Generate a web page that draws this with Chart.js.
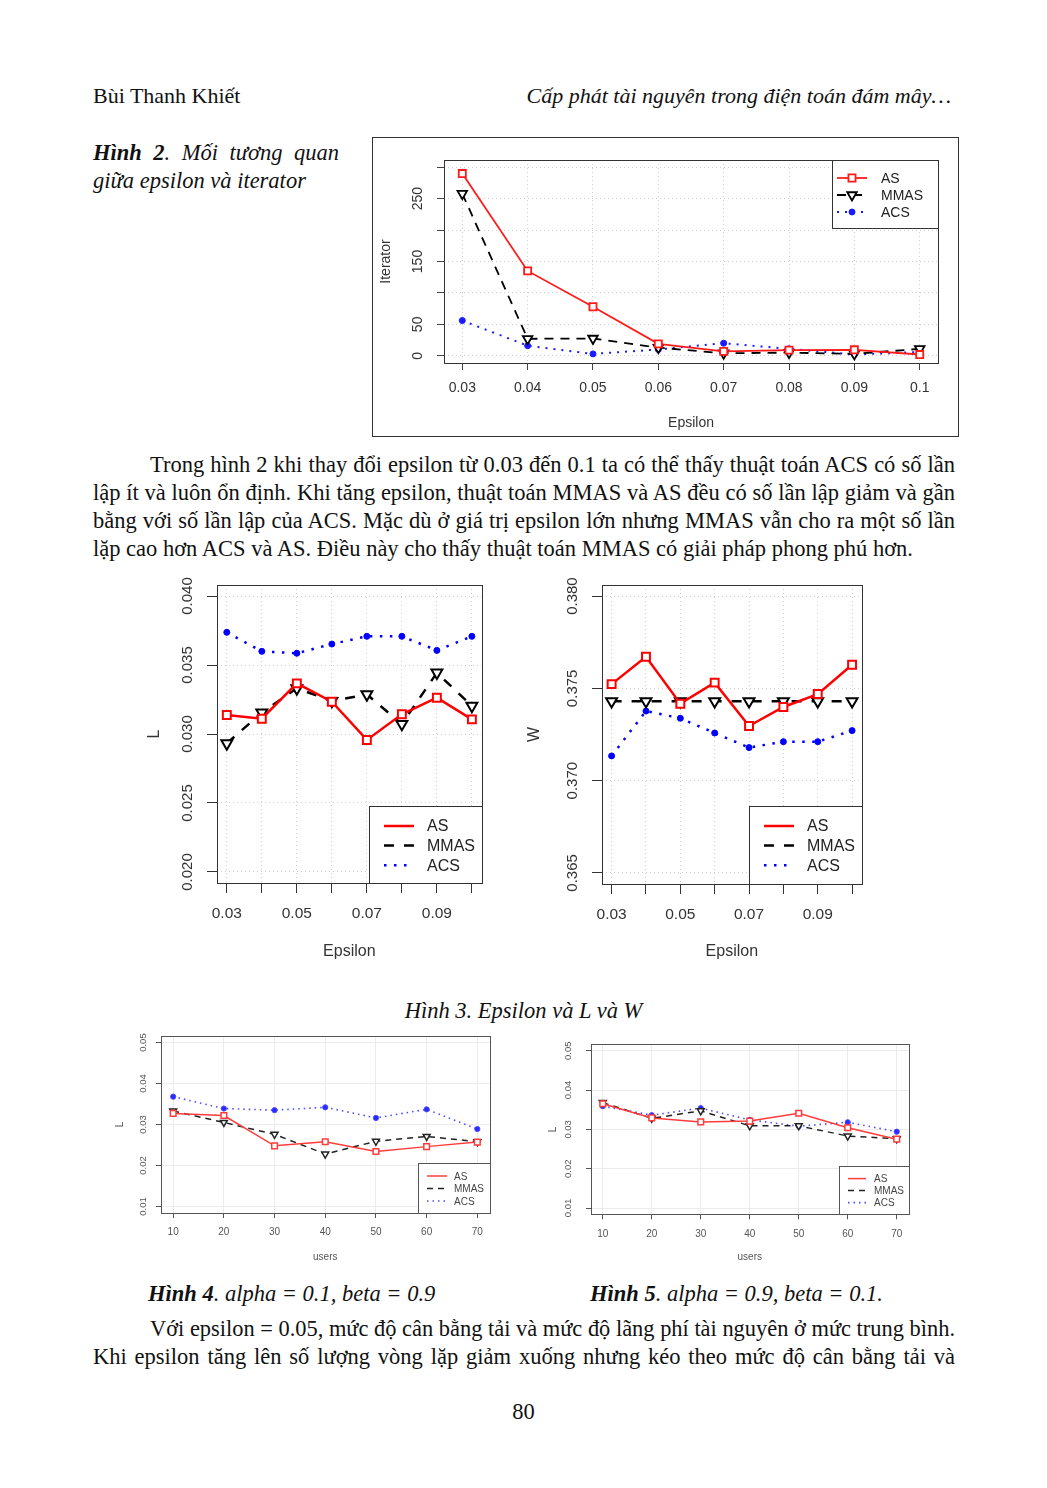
<!DOCTYPE html>
<html>
<head>
<meta charset="utf-8">
<script src="https://cdn.jsdelivr.net/npm/chart.js"></script>
<style>
body { margin: 0; background: #fff; width: 1047px; height: 1488px; position: relative; overflow: hidden; font-family: "Liberation Serif", serif; color: #111; }
.t { position: absolute; white-space: nowrap; font-size: 22.5px; line-height: 28px; }
.h { font-size: 22px; }
.j { text-align: justify; text-align-last: justify; white-space: normal; }
.i { font-style: italic; }
.fit { transform-origin: 0 50%; }
canvas { position: absolute; }
#box1 { position: absolute; left: 372px; top: 137px; width: 585px; height: 298px; border: 1px solid #333; }
</style>
</head>
<body>

<div class="t h" style="left:93px; top:82px;">Bùi Thanh Khiết</div>
<div class="t h i" style="right:96px; top:82px;">Cấp phát tài nguyên trong điện toán đám mây…</div>

<div class="t i j" style="left:93px; top:139px; width:246px;"><b>Hình 2</b>. Mối tương quan</div>
<div class="t i" style="left:93px; top:167px;">giữa epsilon và iterator</div>

<div id="box1"><canvas id="c1" width="585" height="298" style="left:0;top:0"></canvas></div>

<div class="t j" style="left:150px; top:451px; width:805px;">Trong hình 2 khi thay đổi epsilon từ 0.03 đến 0.1 ta có thể thấy thuật toán ACS có số lần</div>
<div class="t j" style="left:93px; top:479px; width:862px;">lập ít và luôn ổn định. Khi tăng epsilon, thuật toán MMAS và AS đều có số lần lập giảm và gần</div>
<div class="t j" style="left:93px; top:507px; width:862px;">bằng với số lần lập của ACS. Mặc dù ở giá trị epsilon lớn nhưng MMAS vẫn cho ra một số lần</div>
<div class="t" style="left:93px; top:535px;">lặp cao hơn ACS và AS. Điều này cho thấy thuật toán MMAS có giải pháp phong phú hơn.</div>

<canvas id="cL" width="350" height="390" style="left:140px; top:575px;"></canvas>
<canvas id="cW" width="350" height="390" style="left:520px; top:575px;"></canvas>

<div class="t i" style="left:0; width:1047px; text-align:center; top:997px;">Hình 3. Epsilon và L và W</div>

<canvas id="c4" width="390" height="240" style="left:105px; top:1030px;"></canvas>
<canvas id="c5" width="390" height="235" style="left:530px; top:1035px;"></canvas>

<div class="t i" style="left:148px; top:1280px;"><b>Hình 4</b>. alpha = 0.1, beta = 0.9</div>
<div class="t i" style="left:590px; top:1280px;"><b>Hình 5</b>. alpha = 0.9, beta = 0.1.</div>

<div class="t fit" data-w="805" style="left:150px; top:1315px;">Với epsilon = 0.05, mức độ cân bằng tải và mức độ lãng phí tài nguyên ở mức trung bình.</div>
<div class="t j" style="left:93px; top:1343px; width:862px;">Khi epsilon tăng lên số lượng vòng lặp giảm xuống nhưng kéo theo mức độ cân bằng tải và</div>

<div class="t" style="left:0; width:1047px; text-align:center; top:1398px;">80</div>

<script>
// Dữ liệu Hình 2 (epsilon - iterator)
const epsilon = [0.03, 0.04, 0.05, 0.06, 0.07, 0.08, 0.09, 0.10];
const epsLabels = ['0.03', '0.04', '0.05', '0.06', '0.07', '0.08', '0.09', '0.1'];
const epsLabelsSparse = ['0.03', '', '0.05', '', '0.07', '', '0.09', ''];
const iterAS = [290, 135, 78, 19, 7, 9, 9.5, 2];
const iterMMAS = [258, 27, 27.5, 13, 4, 5, 3, 11];
const iterACS = [56, 16, 3, 10, 20, 11, 2, 6];
const iterTicks = [0, 50, 100, 150, 200, 250, 300];
const iterTickLabels = ['0', '50', '', '150', '', '250', ''];

// Hình 3 (L và W)
const lAS = [0.03138, 0.03111, 0.03367, 0.03234, 0.02957, 0.03143, 0.03263, 0.03106];
const lMMAS = [0.02932, 0.03155, 0.03331, 0.03239, 0.03287, 0.03072, 0.03444, 0.03203];
const lACS = [0.03737, 0.03599, 0.03585, 0.03652, 0.03708, 0.03708, 0.03606, 0.03708];
const lTicks = [0.020, 0.025, 0.030, 0.035, 0.040];
const lTickLabels = ['0.020', '0.025', '0.030', '0.035', '0.040'];

const wAS = [0.37523, 0.37671, 0.37417, 0.37531, 0.37296, 0.37399, 0.37469, 0.37628];
const wMMAS = [0.3743, 0.3743, 0.3743, 0.3743, 0.3743, 0.3743, 0.3743, 0.3743];
const wACS = [0.37134, 0.37377, 0.37338, 0.37258, 0.37179, 0.37211, 0.37211, 0.37271];
const wTicks = [0.365, 0.370, 0.375, 0.380];
const wTickLabels = ['0.365', '0.370', '0.375', '0.380'];

// Hình 4 và 5 (users - L)
const users = [10, 20, 30, 40, 50, 60, 70];
const userLabels = ['10', '20', '30', '40', '50', '60', '70'];
const h4AS = [0.0327, 0.0322, 0.0248, 0.0258, 0.0234, 0.0246, 0.0257];
const h4MMAS = [0.0333, 0.0305, 0.0276, 0.0228, 0.0259, 0.0271, 0.0258];
const h4ACS = [0.0368, 0.0339, 0.0335, 0.0342, 0.0316, 0.0337, 0.0289];
const h5AS = [0.0365, 0.0329, 0.0319, 0.0321, 0.0341, 0.0304, 0.0275];
const h5MMAS = [0.0368, 0.0328, 0.0347, 0.0309, 0.0309, 0.0283, 0.0276];
const h5ACS = [0.0359, 0.0336, 0.0354, 0.0324, 0.0308, 0.0318, 0.0294];
const smallTicks = [0.01, 0.02, 0.03, 0.04, 0.05];
const smallTickLabels = ['0.01', '0.02', '0.03', '0.04', '0.05'];

const SANS = '"Liberation Sans", Arial, sans-serif';

// co dòng chữ quá dài cho vừa bề rộng
document.querySelectorAll('.fit').forEach(el => {
    const w = +el.dataset.w;
    const nat = el.getBoundingClientRect().width;
    if (nat > w) el.style.transform = 'scaleX(' + (w / nat) + ')';
});

function drawMarker(ctx, ds, x, y) {
    const r = ds.pointRadius;
    ctx.save();
    ctx.setLineDash([]);
    ctx.lineWidth = ds.pointBorderWidth;
    ctx.strokeStyle = ds.pointBorderColor;
    ctx.fillStyle = ds.pointBackgroundColor;
    ctx.beginPath();
    if (ds.pointStyle === 'rect') {
        const s = r * Math.SQRT1_2;
        ctx.rect(x - s, y - s, 2 * s, 2 * s);
    } else if (ds.pointStyle === 'triangle') {
        ctx.moveTo(x, y + r);
        ctx.lineTo(x - r * Math.sin(Math.PI / 3), y - r / 2);
        ctx.lineTo(x + r * Math.sin(Math.PI / 3), y - r / 2);
        ctx.closePath();
    } else {
        ctx.arc(x, y, r, 0, Math.PI * 2);
    }
    ctx.fill();
    ctx.stroke();
    ctx.restore();
}

// khung, nhãn trục y xoay dọc và chú thích kiểu R
const rframe = {
    id: 'rframe',
    afterDraw(chart, args, opts) {
        const ctx = chart.ctx;
        const a = chart.chartArea;
        const ys = chart.scales.y;
        ctx.save();
        // nhãn trục y
        ctx.font = opts.yFont;
        ctx.fillStyle = opts.textColor;
        ctx.textAlign = 'center';
        ctx.textBaseline = 'middle';
        ys.ticks.forEach((t, i) => {
            const lab = opts.yLabels[i];
            if (!lab) return;
            ctx.save();
            ctx.translate(a.left - opts.yGap, ys.getPixelForValue(t.value));
            ctx.rotate(-Math.PI / 2);
            ctx.fillText(lab, 0, 0);
            ctx.restore();
        });
        // khung
        ctx.strokeStyle = opts.frameColor;
        ctx.lineWidth = 1;
        ctx.strokeRect(Math.round(a.left) + 0.5, Math.round(a.top) + 0.5,
            Math.round(a.right) - Math.round(a.left), Math.round(a.bottom) - Math.round(a.top));
        // chú thích
        const L = opts.legend;
        const x0 = Math.round(a.right - L.w);
        const y0 = L.corner === 'top' ? Math.round(a.top) : Math.round(a.bottom - L.h);
        ctx.fillStyle = '#fff';
        ctx.fillRect(x0 + 0.5, y0 + 0.5, L.w, L.h);
        ctx.strokeRect(x0 + 0.5, y0 + 0.5, Math.round(a.right) - x0, L.h);
        ctx.font = L.font;
        ctx.textAlign = 'left';
        chart.data.datasets.forEach((ds, i) => {
            const cy = y0 + L.firstY + i * L.rowH;
            ctx.save();
            ctx.strokeStyle = ds.borderColor;
            ctx.lineWidth = ds.borderWidth;
            ctx.setLineDash(ds.borderDash || []);
            ctx.beginPath();
            ctx.moveTo(x0 + L.lineX, cy);
            ctx.lineTo(x0 + L.lineX + L.lineLen, cy);
            ctx.stroke();
            ctx.restore();
            if (L.markers) drawMarker(ctx, ds, x0 + L.lineX + L.lineLen / 2, cy);
            ctx.fillStyle = opts.legendColor;
            ctx.fillText(ds.label, x0 + L.textX, cy + 1);
        });
        ctx.restore();
    }
};

function series(label, xs, ys, st) {
    return {
        label: label,
        data: xs.map((x, i) => ({x: x, y: ys[i]})),
        borderColor: st.color,
        borderWidth: st.width,
        borderDash: st.dash,
        borderCapStyle: 'butt',
        pointStyle: st.point,
        pointRadius: st.radius,
        pointRotation: st.rot || 0,
        pointBorderColor: st.color,
        pointBackgroundColor: st.fill,
        pointBorderWidth: st.pw,
        tension: 0,
        fill: false
    };
}

function makeChart(id, c) {
    return new Chart(document.getElementById(id), {
        type: 'line',
        data: {datasets: c.datasets},
        options: {
            responsive: false,
            animation: false,
            devicePixelRatio: 1,
            events: [],
            layout: {padding: c.pad},
            plugins: {
                legend: {display: false},
                tooltip: {enabled: false},
                rframe: {
                    yFont: c.yFontSize + 'px ' + SANS,
                    textColor: c.textColor,
                    yLabels: c.yLabels,
                    yGap: c.yGap,
                    frameColor: c.frameColor,
                    legend: c.legend,
                    legendColor: c.legendColor
                }
            },
            scales: {
                x: {
                    type: 'linear',
                    min: c.xMin,
                    max: c.xMax,
                    afterBuildTicks: s => { s.ticks = c.xVals.map(v => ({value: v})); },
                    afterFit: s => { s.height = c.xH; },
                    ticks: {
                        autoSkip: false, maxRotation: 0, minRotation: 0,
                        padding: c.xPad, color: c.textColor,
                        font: {family: SANS, size: c.xFontSize},
                        callback: (v, i) => c.xLabels[i]
                    },
                    grid: {color: c.gridColor, tickColor: c.tickColor, tickLength: c.tl, lineWidth: 1},
                    border: {display: false, dash: c.gridDash},
                    title: {
                        display: true, text: c.xTitle, color: c.textColor,
                        font: {family: SANS, size: c.titleSize, lineHeight: 1},
                        padding: {top: 0, bottom: c.xTitlePad}
                    }
                },
                y: {
                    type: 'linear',
                    min: c.yMin,
                    max: c.yMax,
                    afterBuildTicks: s => { s.ticks = c.yVals.map(v => ({value: v})); },
                    afterFit: s => { s.width = c.yW; },
                    ticks: {display: false},
                    grid: {color: c.gridColor, tickColor: c.tickColor, tickLength: c.tl, lineWidth: 1},
                    border: {display: false, dash: c.gridDash},
                    title: {
                        display: true, text: c.yTitle, color: c.textColor,
                        font: {family: SANS, size: c.titleSize, lineHeight: 1},
                        padding: {top: c.yTitlePad, bottom: 0}
                    }
                }
            }
        },
        plugins: [rframe]
    });
}

// Hình 2
const st1 = {
    as: {color: '#ff1a1a', width: 1.8, dash: [], point: 'rect', radius: 5, fill: '#fff', pw: 1.8},
    mmas: {color: '#000', width: 1.8, dash: [9, 7], point: 'triangle', rot: 180, radius: 5.5, fill: '#fff', pw: 1.8},
    acs: {color: '#1a1aff', width: 2, dash: [2, 6], point: 'circle', radius: 3, fill: '#1a1aff', pw: 1}
};
makeChart('c1', {
    datasets: [
        series('AS', epsilon, iterAS, st1.as),
        series('MMAS', epsilon, iterMMAS, st1.mmas),
        series('ACS', epsilon, iterACS, st1.acs)
    ],
    pad: {left: 0, right: 20, top: 22, bottom: 0},
    xMin: 0.0272, xMax: 0.1028, xVals: epsilon, xLabels: epsLabels,
    yMin: -11.5, yMax: 311.5, yVals: iterTicks, yLabels: iterTickLabels,
    xH: 73, yW: 71, xPad: 10, tl: 7, yGap: 26,
    xFontSize: 14, yFontSize: 14, titleSize: 14,
    xTitle: 'Epsilon', yTitle: 'Iterator', xTitlePad: 6, yTitlePad: 6,
    textColor: '#333', tickColor: '#444', frameColor: '#333', legendColor: '#222',
    gridColor: '#cfcfcf', gridDash: [1, 3],
    legend: {corner: 'top', w: 106, h: 68, firstY: 18, rowH: 17, lineX: 5, lineLen: 30, textX: 49,
        font: '14px ' + SANS, markers: true}
});

// Hình 3
const st3 = {
    as: {color: '#ff0000', width: 2.5, dash: [], point: 'rect', radius: 5.6, fill: '#fff', pw: 2},
    mmas: {color: '#000', width: 2.5, dash: [10, 10], point: 'triangle', rot: 180, radius: 6.3, fill: '#fff', pw: 2},
    acs: {color: '#0000ff', width: 2.5, dash: [2.5, 7.5], point: 'circle', radius: 3, fill: '#0000ff', pw: 1}
};
const common3 = {
    xMin: 0.0272, xMax: 0.1028, xVals: epsilon, xLabels: epsLabelsSparse,
    xH: 82, xPad: 11, tl: 10, yGap: 29,
    xFontSize: 15.5, yFontSize: 15, titleSize: 16,
    xTitle: 'Epsilon', xTitlePad: 5, yTitlePad: 7,
    textColor: '#333', tickColor: '#333', frameColor: '#333', legendColor: '#222',
    gridColor: '#cfcfcf', gridDash: [1, 3]
};
makeChart('cL', Object.assign({}, common3, {
    datasets: [
        series('AS', epsilon, lAS, st3.as),
        series('MMAS', epsilon, lMMAS, st3.mmas),
        series('ACS', epsilon, lACS, st3.acs)
    ],
    pad: {left: 0, right: 8, top: 10, bottom: 0},
    yMin: 0.0192, yMax: 0.0408, yVals: lTicks, yLabels: lTickLabels,
    yW: 77, yTitle: 'L',
    legend: {corner: 'bottom', w: 113, h: 77, firstY: 20, rowH: 19.6, lineX: 15, lineLen: 30, textX: 58,
        font: '16px ' + SANS, markers: false}
}));
makeChart('cW', Object.assign({}, common3, {
    datasets: [
        series('AS', epsilon, wAS, st3.as),
        series('MMAS', epsilon, wMMAS, st3.mmas),
        series('ACS', epsilon, wACS, st3.acs)
    ],
    pad: {left: 0, right: 3, top: 10, bottom: 0},
    xH: 81,
    yMin: 0.3644, yMax: 0.3806, yVals: wTicks, yLabels: wTickLabels,
    yW: 82, yTitle: 'W',
    legend: {corner: 'bottom', w: 113, h: 78, firstY: 20, rowH: 19.6, lineX: 15, lineLen: 30, textX: 58,
        font: '16px ' + SANS, markers: false}
}));

// Hình 4 và 5
const st4 = {
    as: {color: '#ff3b3b', width: 1.5, dash: [], point: 'rect', radius: 4, fill: '#fff', pw: 1.5},
    mmas: {color: '#222', width: 1.5, dash: [6, 5], point: 'triangle', rot: 180, radius: 4, fill: '#fff', pw: 1.5},
    acs: {color: '#4a4aff', width: 1.6, dash: [1.5, 4], point: 'circle', radius: 2.6, fill: '#2a2aff', pw: 1}
};
const common4 = {
    xMin: 7.6, xMax: 72.4, xVals: users, xLabels: userLabels,
    yVals: smallTicks, yLabels: smallTickLabels,
    xPad: 8.5, tl: 5,
    xFontSize: 10, yFontSize: 9.5, titleSize: 10,
    xTitle: 'users', yTitle: 'L', xTitlePad: 8,
    textColor: '#555', tickColor: '#555', frameColor: '#555', legendColor: '#444',
    gridColor: '#ececec', gridDash: []
};
makeChart('c4', Object.assign({}, common4, {
    datasets: [
        series('AS', users, h4AS, st4.as),
        series('MMAS', users, h4MMAS, st4.mmas),
        series('ACS', users, h4ACS, st4.acs)
    ],
    pad: {left: 0, right: 4, top: 6, bottom: 0},
    yMin: 0.0084, yMax: 0.0516,
    xH: 57, yW: 56, yGap: 17.7, yTitlePad: 10,
    legend: {corner: 'bottom', w: 72, h: 50, firstY: 13, rowH: 12.5, lineX: 9, lineLen: 20, textX: 36,
        font: '10px ' + SANS, markers: false}
}));
makeChart('c5', Object.assign({}, common4, {
    datasets: [
        series('AS', users, h5AS, st4.as),
        series('MMAS', users, h5MMAS, st4.mmas),
        series('ACS', users, h5ACS, st4.acs)
    ],
    pad: {left: 0, right: 11.5, top: 9.4, bottom: 0},
    yMin: 0.0084, yMax: 0.0516,
    xH: 55.7, yW: 61, yGap: 23, yTitlePad: 18,
    legend: {corner: 'bottom', w: 70, h: 48, firstY: 12.6, rowH: 12, lineX: 9, lineLen: 18, textX: 35,
        font: '10px ' + SANS, markers: false}
}));
</script>
</body>
</html>
